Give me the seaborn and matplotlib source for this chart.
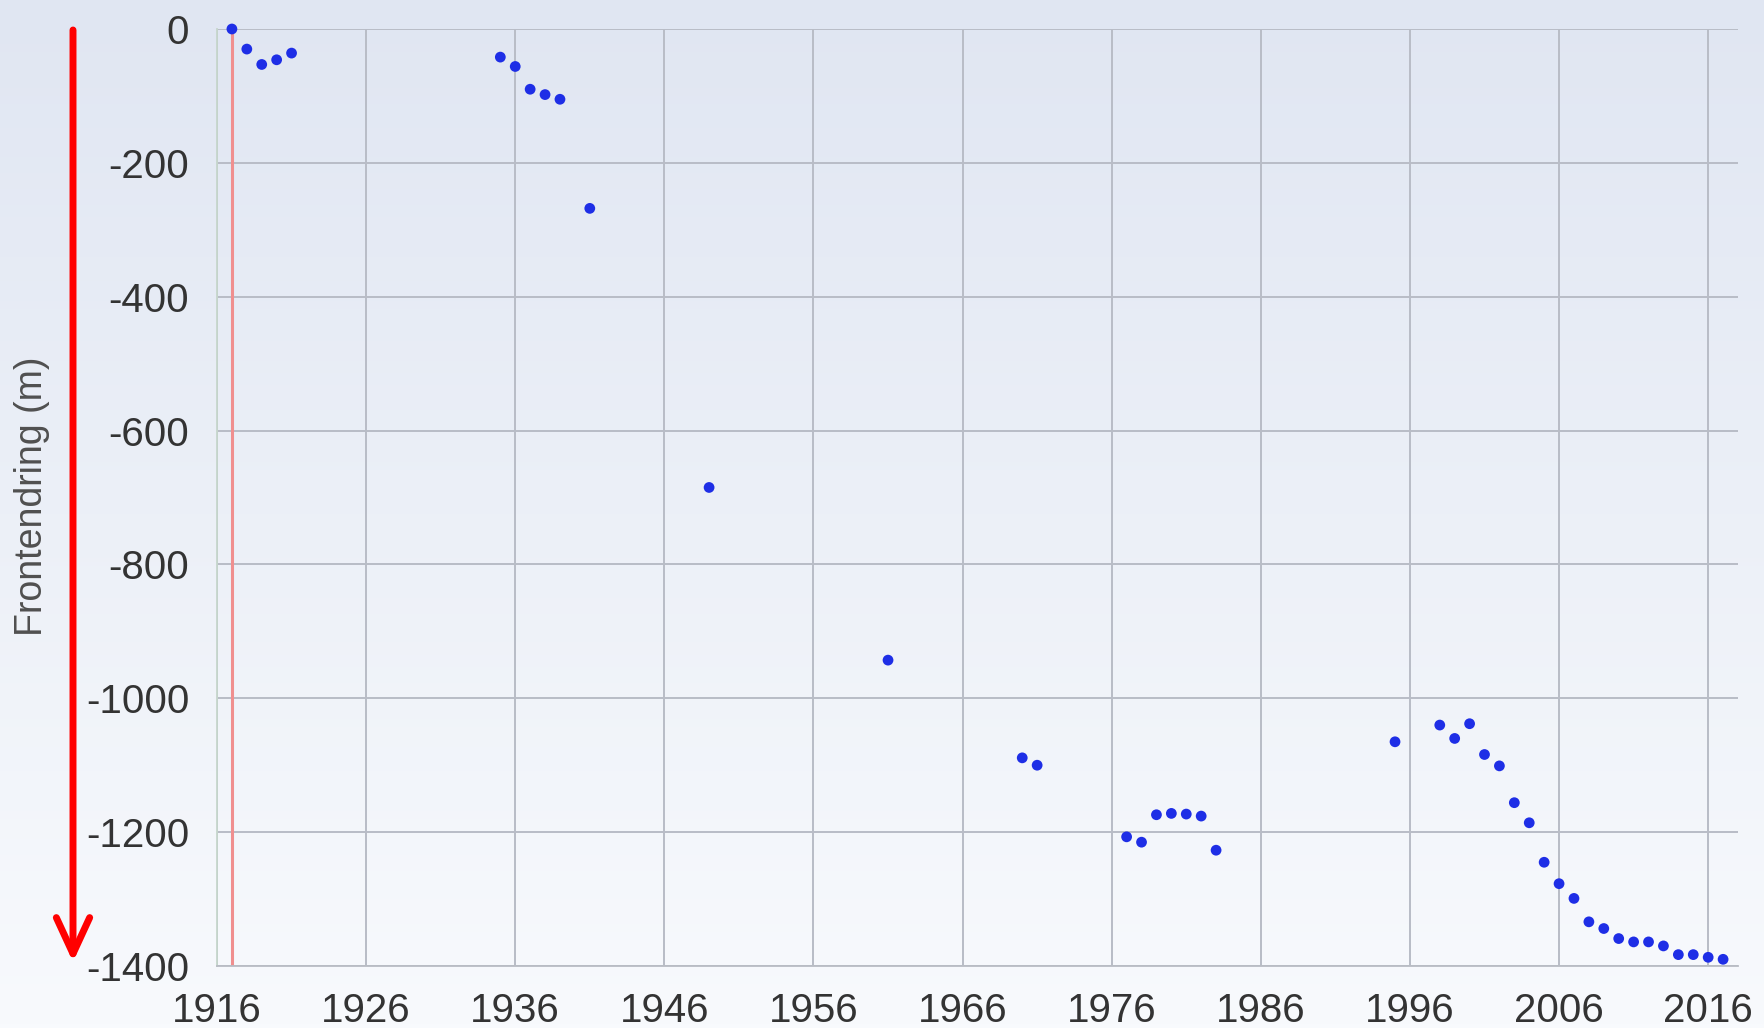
import numpy as np
import pandas as pd
import matplotlib
matplotlib.use("Agg")
import matplotlib.pyplot as plt
import seaborn as sns

# front position change, measured years only
years = [1917, 1918, 1919, 1920, 1921,
         1935, 1936, 1937, 1938, 1939, 1941,
         1949, 1961, 1970, 1971,
         1977, 1978, 1979, 1980, 1981, 1982, 1983,
         1995, 1998, 1999, 2000, 2001, 2002, 2003, 2004, 2005,
         2006, 2007, 2008, 2009, 2010, 2011, 2012, 2013, 2014,
         2015, 2016, 2017]
change = [0, -30, -53, -46, -36,
          -42, -56, -90, -98, -105, -268,
          -685, -943, -1089, -1100,
          -1207, -1215, -1174, -1172, -1173, -1176, -1227,
          -1065, -1040, -1060, -1038, -1084, -1101, -1156, -1186, -1245,
          -1277, -1299, -1334, -1344, -1359, -1364, -1364, -1370, -1383,
          -1383, -1387, -1390]

ref_year = 1917
y_ticks = [0, -200, -400, -600, -800, -1000, -1200, -1400]
y_label = "Frontendring (m)"

df = pd.DataFrame({"year": years, "change": change})

sns.set_style("white")
plt.rcParams["font.family"] = ["Liberation Sans", "DejaVu Sans"]

fig = plt.figure(figsize=(17.65, 10.28), dpi=100)

# soft vertical gradient behind everything
bg = fig.add_axes([0, 0, 1, 1], zorder=-10)
grad = np.linspace(0, 1, 256).reshape(-1, 1)
top_c = np.array([224, 230, 242]) / 255
bot_c = np.array([248, 250, 253]) / 255
img = top_c + (bot_c - top_c) * grad[:, :, None]
bg.imshow(img, aspect="auto", extent=[0, 1, 0, 1])
bg.axis("off")

ax = fig.add_axes([217 / 1765, 1 - 966 / 1028, (1738 - 217) / 1765, (966 - 29) / 1028])
ax.set_facecolor("none")

ax.axvline(ref_year, color="#f08f8f", lw=2.2, zorder=2)

sns.scatterplot(data=df, x="year", y="change", ax=ax, s=60, color="#1e2ee6",
                edgecolor="none", zorder=3, clip_on=False, legend=False)

ax.set_xlim(1916, 2018)
ax.set_ylim(-1400, 0)

major_x = list(range(1916, 2017, 20))
minor_x = list(range(1926, 2017, 20))
ax.set_xticks(major_x, labels=[str(v) for v in major_x])
ax.set_xticks(minor_x, labels=[str(v) for v in minor_x], minor=True)
ax.set_yticks(y_ticks, labels=[str(v) for v in y_ticks])

fs = 29
ax.tick_params(axis="x", which="major", length=10, width=1.3, color="#555555", pad=9,
               labelsize=fs, labelcolor="#333333")
ax.tick_params(axis="x", which="minor", length=0, pad=19,
               labelsize=fs, labelcolor="#333333")
ax.tick_params(axis="y", which="major", length=12, width=1.3, color="#555555", pad=8,
               labelsize=fs, labelcolor="#333333")

ax.grid(True, which="both", axis="x", color="#b8bcc6", lw=1.4)
ax.grid(True, which="major", axis="y", color="#b8bcc6", lw=1.4)
ax.set_axisbelow(True)

for side in ["top", "right"]:
    ax.spines[side].set_visible(False)
ax.spines["left"].set_color("#c6d6cc")
ax.spines["left"].set_linewidth(1.3)
ax.spines["bottom"].set_color("#b8bcc4")
ax.spines["bottom"].set_linewidth(1.3)

ax.set_xlabel("")
ax.set_ylabel("")
fig.text(32 / 1765, 1 - 496 / 1028, y_label, rotation=90, ha="center", va="center",
         fontsize=27, color="#505050")

# red arrow on the left
fig.add_artist(matplotlib.patches.FancyArrowPatch(
    (73 / 1765, 1 - 30 / 1028), (73 / 1765, 1 - 962 / 1028),
    transform=fig.transFigure, arrowstyle="->,head_length=1.3,head_width=0.6",
    mutation_scale=20, color="#ff0000", lw=5, shrinkA=0, shrinkB=0))

fig.savefig("out.png", dpi=100)
